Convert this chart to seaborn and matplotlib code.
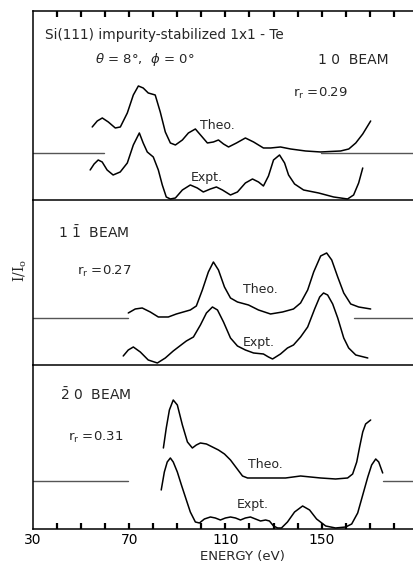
import numpy as np
import pandas as pd
import matplotlib
matplotlib.use("Agg")
import matplotlib.pyplot as plt
import seaborn as sns

# LEED I-V curves, Si(111) 1x1-Te (arbitrary intensity units)

# 10 beam
e_10_theo = [54.6, 56.7, 58.8, 61.3, 64.2, 66.3, 69.2, 71.7, 73.8, 75.8, 77.9, 80.8, 82.9, 85.0,
             87.1, 89.2, 92.1, 94.6, 97.5, 100.0, 102.5, 105.0, 107.1, 109.2, 111.3, 114.6, 118.3,
             121.7, 125.8, 128.8, 132.9, 137.1, 143.3, 149.6, 157.9, 161.3, 164.2, 167.1, 170.4]
i_10_theo = [7.3, 7.9, 8.2, 7.8, 7.2, 7.3, 8.7, 10.5, 11.4, 11.2, 10.7, 10.5, 8.8, 6.8,
             5.7, 5.5, 6.0, 6.7, 7.1, 6.4, 5.7, 5.8, 6.0, 5.6, 5.3, 5.7, 6.2,
             5.8, 5.2, 5.2, 5.3, 5.1, 4.9, 4.8, 4.9, 5.1, 5.7, 6.6, 7.9]
e_10_expt = [53.75, 55.4, 57.1, 58.75, 60.8, 63.3, 66.25, 69.2, 71.7, 74.2, 75.8, 77.5, 80.0,
             82.1, 83.75, 85.4, 87.1, 89.2, 92.1, 95.4, 98.3, 100.8, 103.75, 106.25, 108.75,
             112.1, 115.0, 118.3, 121.25, 123.75, 125.8, 127.9, 130.0, 132.5, 134.6, 136.25,
             138.75, 142.5, 148.75, 155.0, 160.8, 163.3, 165.4, 167.1]
i_10_expt = [3.0, 3.6, 4.0, 3.8, 3.0, 2.5, 2.8, 3.7, 5.5, 6.7, 5.7, 4.8, 4.3,
             3.0, 1.5, 0.3, 0.1, 0.2, 1.0, 1.5, 1.2, 0.8, 1.1, 1.3, 1.0,
             0.5, 0.8, 1.7, 2.1, 1.8, 1.4, 2.4, 4.0, 4.5, 3.7, 2.5,
             1.6, 1.0, 0.7, 0.3, 0.1, 0.5, 1.7, 3.2]

# 1 1-bar beam
e_11_theo = [69.6, 72.5, 75.4, 78.75, 82.1, 86.25, 89.6, 92.5, 95.4, 97.9, 100.4, 102.9, 105.0,
             107.1, 109.6, 112.1, 115.0, 119.6, 123.75, 128.75, 133.75, 138.3, 141.25, 144.2,
             146.7, 149.6, 152.1, 154.2, 156.7, 159.2, 162.1, 165.4, 170.4]
i_11_theo = [5.2, 5.6, 5.7, 5.3, 4.8, 4.8, 5.1, 5.3, 5.5, 5.9, 7.5, 9.3, 10.3,
             9.5, 7.8, 6.7, 6.3, 6.0, 5.5, 5.1, 5.3, 5.6, 6.2, 7.5,
             9.3, 10.9, 11.2, 10.5, 8.8, 7.2, 6.1, 5.8, 5.6]
e_11_expt = [67.5, 69.6, 71.7, 74.6, 77.9, 81.7, 85.0, 88.3, 92.1, 93.75, 96.7, 99.6, 102.1,
             104.6, 106.7, 109.2, 112.1, 115.0, 118.3, 121.7, 125.8, 127.9, 129.6, 132.9,
             135.8, 138.3, 141.25, 144.2, 147.1, 149.2, 150.8, 152.5, 154.6, 156.7, 159.2,
             161.25, 164.2, 169.2]
i_11_expt = [0.9, 1.5, 1.8, 1.3, 0.5, 0.2, 0.7, 1.4, 2.1, 2.4, 2.8, 4.0, 5.2,
             5.8, 5.5, 4.3, 2.7, 1.9, 1.5, 1.2, 1.1, 0.8, 0.6, 1.1,
             1.7, 2.0, 2.8, 3.8, 5.6, 6.8, 7.2, 7.0, 6.1, 4.7, 2.7,
             1.7, 1.0, 0.7]

# 2-bar 0 beam
e_20_theo = [84.2, 85.4, 86.7, 88.3, 90.0, 92.1, 94.2, 96.25, 97.9, 99.6, 102.1, 104.6, 107.1,
             109.6, 112.1, 114.6, 117.1, 119.2, 121.7, 130.0, 135.0, 141.25, 145.4, 149.6,
             155.8, 160.8, 162.9, 164.6, 165.8, 167.1, 168.3, 170.4]
i_20_theo = [8.1, 10.1, 11.9, 12.9, 12.4, 10.4, 8.7, 8.1, 8.4, 8.6, 8.5, 8.2, 7.9,
             7.5, 6.9, 6.1, 5.3, 5.1, 5.1, 5.1, 5.1, 5.3, 5.2, 5.1,
             5.0, 5.1, 5.5, 6.7, 8.2, 9.7, 10.5, 10.9]
e_20_expt = [83.3, 84.6, 85.8, 87.1, 88.3, 90.0, 91.7, 93.75, 95.4, 97.5, 99.2, 101.25, 103.75,
             105.8, 107.9, 110.0, 112.1, 114.2, 116.25, 118.3, 120.4, 122.5, 124.6, 126.7,
             128.3, 130.0, 131.7, 133.3, 135.8, 138.75, 142.1, 145.0, 147.9, 151.7, 155.8,
             160.0, 162.5, 165.0, 167.1, 169.2, 170.8, 172.5, 173.75, 175.4]
i_20_expt = [3.9, 5.7, 6.7, 7.1, 6.7, 5.7, 4.4, 2.9, 1.7, 0.7, 0.6, 1.0, 1.2,
             1.1, 0.9, 1.1, 1.2, 1.1, 0.9, 1.1, 1.2, 1.0, 0.8, 0.9,
             0.8, 0.3, 0.1, 0.1, 0.7, 1.7, 2.3, 1.9, 1.0, 0.3, 0.1,
             0.2, 0.5, 1.6, 3.4, 5.2, 6.4, 7.0, 6.7, 5.6]

# zero-intensity reference level of the theory curve, drawn outside its energy range
base_level = [4.7, 4.7, 4.8]
base_left = [(30, 59.6), (30, 69.6), (30, 69.6)]
base_right = [(149.6, 188), (163.3, 188), (175.4, 188)]

beam_names = ["1 0  BEAM", r"1 $\bar{1}$  BEAM", r"$\bar{2}$ 0  BEAM"]
r_factors = ["0.29", "0.27", "0.31"]
energy_labels = [30, 70, 110, 150]
energy_ticks = np.arange(40, 190, 10)

panels = [
    (e_10_theo, i_10_theo, e_10_expt, i_10_expt),
    (e_11_theo, i_11_theo, e_11_expt, i_11_expt),
    (e_20_theo, i_20_theo, e_20_expt, i_20_expt),
]

sns.set_style("white", rc={"axes.axisbelow": False, "axes.edgecolor": "black",
                           "xtick.color": "black"})
plt.rcParams["font.family"] = ["DejaVu Sans"]
plt.rcParams["mathtext.fontset"] = "dejavusans"

fig, axes = plt.subplots(3, 1, figsize=(4.13, 5.63), dpi=100,
                         gridspec_kw={"height_ratios": [189, 165, 164], "hspace": 0})
fig.subplots_adjust(left=0.080, right=1.0, bottom=0.0604, top=0.9805)

ylims = [18.9, 16.5, 16.4]
lw = 1.1
for k, ax in enumerate(axes):
    ax.set_facecolor("none")
    e_t, i_t, e_x, i_x = panels[k]
    df_t = pd.DataFrame({"energy": e_t, "intensity": i_t})
    df_x = pd.DataFrame({"energy": e_x, "intensity": i_x})
    sns.lineplot(data=df_t, x="energy", y="intensity", ax=ax, color="black",
                 lw=lw, sort=False, estimator=None)
    sns.lineplot(data=df_x, x="energy", y="intensity", ax=ax, color="black",
                 lw=lw, sort=False, estimator=None)
    for seg in (base_left[k], base_right[k]):
        ax.plot(seg, [base_level[k]] * 2, color="#555555", lw=1.0)

    ax.set_xlim(30, 188)
    ax.set_ylim(0, ylims[k])
    ax.set_xlabel("")
    ax.set_ylabel("")
    ax.set_yticks([])
    for side in ["left", "bottom", "top", "right"]:
        ax.spines[side].set_linewidth(1.1)
    ax.spines["right"].set_visible(False)
    if k > 0:
        ax.spines["top"].set_visible(False)

a0, a1, a2 = axes
a0.set_xticks([])
a1.set_xticks([])

# inward tick marks every 10 eV along the top and bottom axes
tick_len_px = 6
a0.vlines(energy_ticks, 1 - tick_len_px / 189, 1, transform=a0.get_xaxis_transform(),
          color="black", lw=1.6, clip_on=False, zorder=5)
a2.vlines(energy_ticks, 0, tick_len_px / 164, transform=a2.get_xaxis_transform(),
          color="black", lw=1.6, clip_on=False, zorder=5)

# bottom axis labels every 40 eV
a2.set_xticks(energy_labels)
a2.tick_params(axis="x", which="major", bottom=True, length=0, labelsize=10, pad=3,
               labelcolor="black")
a2.set_xlabel("ENERGY (eV)", fontsize=9.5, labelpad=1)
a2.xaxis.set_label_coords(0.55, -0.13)

# annotations
a0.text(35, 16.5, "Si(111) impurity-stabilized 1x1 - Te", fontsize=9.8, va="center")
a0.text(55.8, 14.0, r"$\theta$ = 8°,  $\phi$ = 0°", fontsize=9.5, va="center")
a0.text(148.7, 14.0, beam_names[0], fontsize=10, va="center")
a0.text(137.9, 10.7, r"r$_\mathregular{r}$ =" + r_factors[0], fontsize=9.5, va="center")
a0.text(99.6, 7.4, "Theo.", fontsize=9, va="center")
a0.text(95.4, 2.2, "Expt.", fontsize=9, va="center")

a1.text(40.4, 13.2, beam_names[1], fontsize=10, va="center")
a1.text(48.3, 9.4, r"r$_\mathregular{r}$ =" + r_factors[1], fontsize=9.5, va="center")
a1.text(117.5, 7.5, "Theo.", fontsize=9, va="center")
a1.text(117.1, 2.2, "Expt.", fontsize=9, va="center")

a2.text(41.2, 13.4, beam_names[2], fontsize=10, va="center")
a2.text(44.6, 9.2, r"r$_\mathregular{r}$ =" + r_factors[2], fontsize=9.5, va="center")
a2.text(119.2, 6.4, "Theo.", fontsize=9, va="center")
a2.text(114.6, 2.4, "Expt.", fontsize=9, va="center")

fig.text(0.048, 0.52, r"I/I$_\mathregular{o}$", rotation=90, fontsize=10,
         family="DejaVu Serif", ha="center", va="center")

fig.savefig("out.png", dpi=100, facecolor="white")
